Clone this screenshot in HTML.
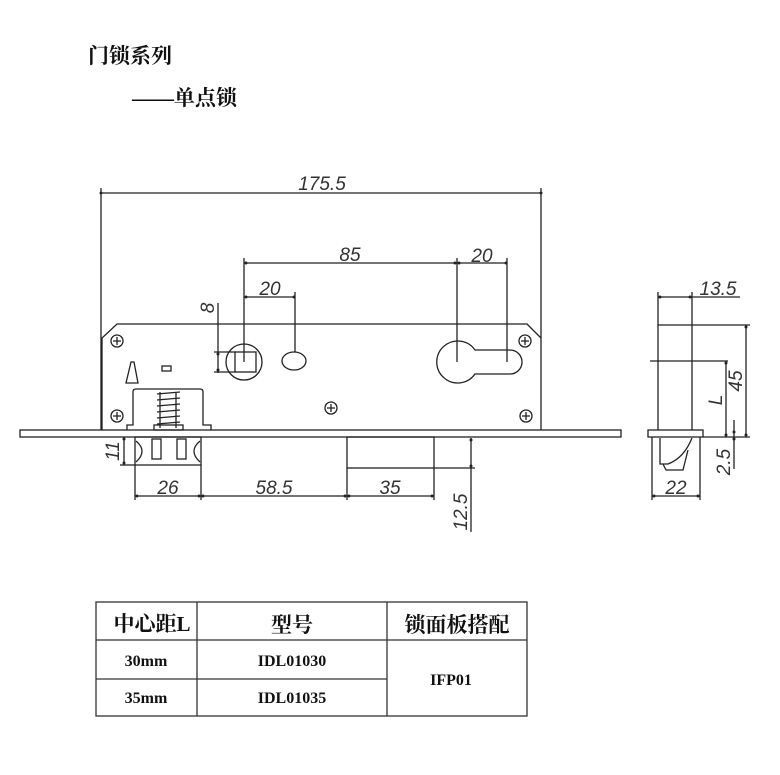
<!DOCTYPE html>
<html><head><meta charset="utf-8"><style>
html,body{margin:0;padding:0;background:#fff;width:780px;height:775px;overflow:hidden}
svg{display:block}
.d{font-family:"Liberation Sans",sans-serif;font-style:italic;font-size:19px;fill:#333}
.c{font-family:"Liberation Serif","Noto Serif CJK SC",serif;font-weight:bold;fill:#111}
</style></head><body>
<svg width="780" height="775" viewBox="0 0 780 775" xmlns="http://www.w3.org/2000/svg">
<g class="c">
<text x="88" y="63" font-size="21">门锁系列</text>
<text x="132" y="105" font-size="21">——单点锁</text>
</g>
<g fill="none" stroke="#222" stroke-width="1.3">
<!-- body -->
<path d="M102 430 V338 L117 324 H527 L541 338 V430"/>
<rect x="20" y="430" width="601" height="7"/>
<!-- top dims -->
<line x1="101" y1="188" x2="101" y2="430"/>
<line x1="541" y1="188" x2="541" y2="338"/>
<line x1="101" y1="193" x2="541" y2="193"/>
<line x1="244" y1="258" x2="244" y2="362"/>
<line x1="457" y1="258" x2="457" y2="362"/>
<line x1="507" y1="258" x2="507" y2="362"/>
<line x1="244" y1="263" x2="507" y2="263"/>
<line x1="295" y1="292" x2="295" y2="352"/>
<line x1="244" y1="297" x2="295" y2="297"/>
<line x1="218" y1="303" x2="218" y2="373"/>
<line x1="214" y1="352" x2="236" y2="352"/>
<line x1="214" y1="372" x2="236" y2="372"/>
<!-- holes -->
<circle cx="244" cy="362" r="18"/>
<rect x="235" y="352" width="21" height="20"/>
<ellipse cx="294" cy="361" rx="12" ry="9"/>
<path d="M475 350 H510 A12 12 0 0 1 510 374 H475 A21 21 0 1 1 475 350 Z"/>
<!-- screws -->
<g>
<circle cx="117" cy="341" r="6"/><circle cx="117" cy="416" r="6"/><circle cx="331" cy="408" r="6"/><circle cx="525" cy="341" r="6"/><circle cx="526" cy="416" r="6"/>
<path d="M113 341h8M117 337v8M113 416h8M117 412v8M327 408h8M331 404v8M521 341h8M525 337v8M522 416h8M526 412v8"/>
</g>
<path d="M131 362 L126 383 H138 L134 362 Z"/>
<rect x="162" y="366" width="9" height="5"/>
<!-- latch housing -->
<path d="M127 430 V425 H133 V392 Q133 389 136 389 H200 Q203 389 203 392 V425 H211 V430"/>
<path d="M157 394 L180 392 M157 400 L180 398 M157 406 L180 404 M157 412 L180 410 M157 418 L180 416 M157 424 L180 422"/>
<line x1="160" y1="392" x2="160" y2="428"/><line x1="176" y1="392" x2="176" y2="428"/>
<rect x="154" y="425" width="29" height="5"/>
<!-- latch below -->
<rect x="135" y="437" width="66" height="28"/>
<rect x="152" y="439" width="9" height="20"/>
<rect x="177" y="439" width="9" height="20"/>
<path d="M136 441 Q148 451 136 462 M200 441 Q188 451 200 462"/>
<rect x="347" y="437" width="87" height="31"/>
<!-- bottom dims -->
<line x1="135" y1="465" x2="135" y2="500"/>
<line x1="201" y1="465" x2="201" y2="500"/>
<line x1="347" y1="468" x2="347" y2="500"/>
<line x1="434" y1="468" x2="434" y2="500"/>
<line x1="135" y1="496" x2="434" y2="496"/>
<line x1="124" y1="437" x2="124" y2="465"/>
<line x1="120" y1="465" x2="135" y2="465"/>
<line x1="471" y1="438" x2="471" y2="532"/>
<line x1="434" y1="468" x2="475" y2="468"/>
<!-- side view -->
<line x1="658" y1="292" x2="658" y2="430"/>
<line x1="692" y1="292" x2="692" y2="430"/>
<line x1="658" y1="297" x2="740" y2="297"/>
<line x1="658" y1="325" x2="750" y2="325"/>
<line x1="650" y1="361" x2="728" y2="361"/>
<rect x="648" y="430" width="55" height="7"/>
<line x1="703" y1="437" x2="750" y2="437"/>
<line x1="746" y1="325" x2="746" y2="437"/>
<line x1="726" y1="361" x2="726" y2="437"/>
<line x1="734" y1="420" x2="734" y2="469"/>
<line x1="652" y1="437" x2="652" y2="500"/>
<line x1="700" y1="437" x2="700" y2="500"/>
<line x1="652" y1="496" x2="700" y2="496"/>
<path d="M660 438 V464 H668 Q684 458 692 438 M663 464 L666 470 H683 L688 450"/>
</g>
<g fill="#222">
<circle cx="101" cy="193" r="1.5"/><circle cx="541" cy="193" r="1.5"/>
<circle cx="246" cy="263" r="1.5"/><circle cx="455" cy="263" r="1.5"/><circle cx="459" cy="263" r="1.5"/><circle cx="506" cy="263" r="1.5"/>
<circle cx="246" cy="297" r="1.5"/><circle cx="294" cy="297" r="1.5"/>
<circle cx="218" cy="354" r="1.5"/><circle cx="218" cy="370" r="1.5"/>
<circle cx="137" cy="496" r="1.5"/><circle cx="199" cy="496" r="1.5"/><circle cx="203" cy="496" r="1.5"/><circle cx="345" cy="496" r="1.5"/><circle cx="349" cy="496" r="1.5"/><circle cx="432" cy="496" r="1.5"/>
<circle cx="124" cy="439" r="1.5"/><circle cx="124" cy="463" r="1.5"/>
<circle cx="471" cy="440" r="1.5"/><circle cx="471" cy="466" r="1.5"/>
<circle cx="660" cy="297" r="1.5"/><circle cx="690" cy="297" r="1.5"/>
<circle cx="746" cy="327" r="1.5"/><circle cx="746" cy="435" r="1.5"/>
<circle cx="726" cy="363" r="1.5"/><circle cx="726" cy="435" r="1.5"/>
<circle cx="734" cy="432" r="1.5"/><circle cx="734" cy="439" r="1.5"/>
<circle cx="654" cy="496" r="1.5"/><circle cx="698" cy="496" r="1.5"/>
</g>
<g class="d">
<text x="322" y="190" text-anchor="middle">175.5</text>
<text x="350" y="261" text-anchor="middle">85</text>
<text x="482" y="262" text-anchor="middle">20</text>
<text x="270" y="295" text-anchor="middle">20</text>
<text transform="translate(214 308) rotate(-90)" text-anchor="middle">8</text>
<text x="168" y="494" text-anchor="middle">26</text>
<text x="274" y="494" text-anchor="middle">58.5</text>
<text x="390" y="494" text-anchor="middle">35</text>
<text transform="translate(119 451) rotate(-90)" text-anchor="middle">11</text>
<text transform="translate(467 512) rotate(-90)" text-anchor="middle">12.5</text>
<text x="718" y="295" text-anchor="middle">13.5</text>
<text transform="translate(742 381) rotate(-90)" text-anchor="middle">45</text>
<text transform="translate(722 400) rotate(-90)" text-anchor="middle">L</text>
<text transform="translate(730 462) rotate(-90)" text-anchor="middle">2.5</text>
<text x="676" y="494" text-anchor="middle">22</text>
</g>
<!-- table -->
<g fill="none" stroke="#333" stroke-width="1.3">
<rect x="96" y="602" width="431" height="114"/>
<line x1="96" y1="640" x2="527" y2="640"/>
<line x1="96" y1="679" x2="387" y2="679"/>
<line x1="197" y1="602" x2="197" y2="716"/>
<line x1="387" y1="602" x2="387" y2="716"/>
</g>
<g class="c" text-anchor="middle">
<text x="152" y="631" font-size="21">中心距L</text>
<text x="292" y="632" font-size="21">型号</text>
<text x="457" y="632" font-size="21">锁面板搭配</text>
<text x="146" y="666" font-size="16">30mm</text>
<text x="146" y="703" font-size="16">35mm</text>
<text x="292" y="666" font-size="16">IDL01030</text>
<text x="292" y="703" font-size="16">IDL01035</text>
<text x="451" y="685" font-size="16">IFP01</text>
</g>
</svg>
</body></html>
